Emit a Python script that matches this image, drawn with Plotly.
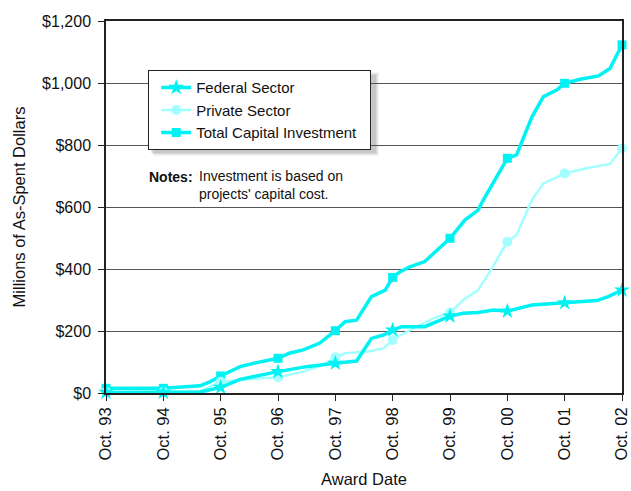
import plotly.graph_objects as go

# Years elapsed since Oct. 1993 (0 = Oct. 93, 9 = Oct. 02)
tick_vals = [0, 1, 2, 3, 4, 5, 6, 7, 8, 9]
tick_text = ["Oct. 93", "Oct. 94", "Oct. 95", "Oct. 96", "Oct. 97",
             "Oct. 98", "Oct. 99", "Oct. 00", "Oct. 01", "Oct. 02"]
y_tick_vals = [0, 200, 400, 600, 800, 1000, 1200]
y_tick_text = ["$0", "$200", "$400", "$600", "$800", "$1,000", "$1,200"]

total_t = [0, 1, 1.64, 1.81, 2, 2.34, 2.63, 3, 3.21, 3.44, 3.73, 4, 4.17, 4.37,
           4.63, 4.87, 5, 5.13, 5.3, 5.56, 6, 6.26, 6.49, 6.58, 7, 7.16, 7.43,
           7.63, 7.86, 8, 8.27, 8.59, 8.79, 9]
total_v = [15, 15, 23, 36, 55, 85, 98, 112, 129, 139, 161, 201, 230, 235,
           311, 332, 373, 391, 407, 424, 499, 558, 590, 622, 757, 768, 891,
           956, 977, 999, 1012, 1023, 1047, 1123]

private_t = [0, 1, 1.64, 2, 2.34, 2.63, 3, 3.44, 3.78, 4, 4.17, 4.55, 4.84, 5,
             5.19, 5.42, 5.71, 6, 6.23, 6.49, 6.73, 7, 7.16, 7.43, 7.63, 8,
             8.38, 8.79, 9]
private_v = [3, 3, 5, 36, 42, 47, 51, 69, 90, 115, 128, 133, 144, 171,
             192, 214, 241, 259, 300, 332, 402, 488, 510, 623, 676, 708,
             725, 739, 789]

federal_t = [0, 1, 1.64, 2, 2.34, 3, 3.5, 4, 4.37, 4.63, 4.84, 5, 5.16, 5.56,
             6, 6.23, 6.49, 6.76, 7, 7.43, 8, 8.56, 8.76, 9]
federal_v = [2, 2, 3, 18, 44, 69, 85, 96, 103, 176, 187, 203, 214, 214,
             248, 257, 260, 268, 264, 284, 291, 298, 311, 332]

CYAN = "#00F2F2"
LIGHT = "#A3FFFF"
FONT = "Liberation Sans, Arial, sans-serif"


def yearly(ts, vs):
    xs, ys = [], []
    for t, v in zip(ts, vs):
        if abs(t - round(t)) < 1e-9:
            xs.append(t)
            ys.append(v)
    return xs, ys


series = [
    ("Federal Sector", federal_t, federal_v, CYAN, 3.5, "star", 12),
    ("Private Sector", private_t, private_v, LIGHT, 2.5, "circle", 10),
    ("Total Capital Investment\u00a0\u00a0", total_t, total_v, CYAN, 3.5, "square", 9),
]

fig = go.Figure()
for name, ts, vs, col, lw, sym, ms in reversed(series):
    fig.add_trace(go.Scatter(x=ts, y=vs, mode="lines", showlegend=False,
                             line=dict(color=col, width=lw), cliponaxis=False,
                             hoverinfo="skip"))
    mx, my = yearly(ts, vs)
    fig.add_trace(go.Scatter(x=mx, y=my, mode="markers", showlegend=False,
                             marker=dict(color=col, symbol=sym, size=ms),
                             cliponaxis=False, name=name))
for name, ts, vs, col, lw, sym, ms in series:
    fig.add_trace(go.Scatter(x=[None], y=[None], mode="lines+markers", name=name,
                             line=dict(color=col, width=lw),
                             marker=dict(color=col, symbol=sym, size=ms)))

# legend drop shadow (soft)
shapes = []
for i, op in enumerate([0.06, 0.08, 0.10, 0.14]):
    d = 3 - i
    shapes.append(dict(type="rect", xref="paper", yref="paper", layer="above",
                       x0=(151 + d - 106) / 516, x1=(376 + d - 106) / 516,
                       y0=(393 - (153 + d)) / 372, y1=(393 - (75 - d)) / 372,
                       fillcolor=f"rgba(90,90,90,{op})", line=dict(width=0)))

fig.update_layout(
    width=631, height=491,
    margin=dict(l=106, r=9, t=21, b=98),
    paper_bgcolor="white", plot_bgcolor="white",
    font=dict(family=FONT, color="#111", size=16),
    shapes=shapes,
    legend=dict(x=(148 - 106) / 516, y=(393 - 70) / 372, xanchor="left", yanchor="top",
                bgcolor="white", bordercolor="#222", borderwidth=1.2,
                font=dict(size=15, family=FONT), tracegroupgap=0, indentation=7),
    annotations=[
        dict(text="<b>Notes:</b>", xref="paper", yref="paper",
             x=(147 - 106) / 516, y=(393 - 177) / 372, xanchor="left", yanchor="middle",
             showarrow=False, font=dict(size=14, family=FONT)),
        dict(text="Investment is based on<br>projects' capital cost.", xref="paper", yref="paper",
             x=(197 - 106) / 516, y=(393 - 185) / 372, xanchor="left", yanchor="middle",
             align="left", showarrow=False, font=dict(size=14, family=FONT)),
    ],
    xaxis=dict(range=[0, 9], tickvals=tick_vals, ticktext=tick_text, tickangle=-90,
               showgrid=False, zeroline=False, showline=True, linecolor="#222",
               linewidth=1.5, mirror=True, ticks="outside", ticklen=6, tickcolor="#222",
               tickfont=dict(size=16.5), fixedrange=True, automargin=False,
               title=dict(text="Award Date", font=dict(size=16.5), standoff=14)),
    yaxis=dict(range=[0, 1200], tickvals=y_tick_vals, ticktext=y_tick_text,
               showgrid=True, gridcolor="#555",
               gridwidth=1, zeroline=False, showline=True, linecolor="#222",
               linewidth=1.5, mirror=True, ticks="outside", ticklen=6, tickcolor="#222",
               tickfont=dict(size=16), ticklabelstandoff=4, automargin=False,
               title=dict(text="Millions of As-Spent Dollars", font=dict(size=16.5), standoff=12)),
)

fig.write_html("out.html")
